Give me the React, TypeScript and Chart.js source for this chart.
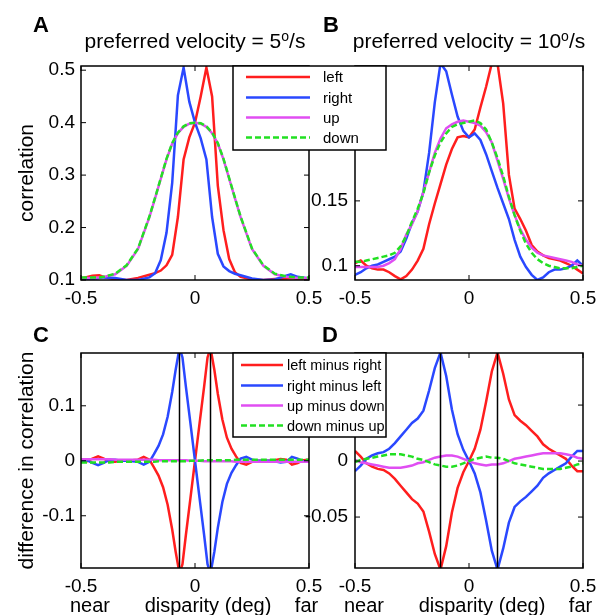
import React, { useEffect, useRef } from "react";
import { Chart, registerables } from "chart.js";

Chart.register(...registerables);

// ---------------- DATA ----------------
const X_TICKS = [-0.5, 0, 0.5];
const X_TICK_LABELS = ["-0.5", "0", "0.5"];

// Panel A (preferred velocity 5 deg/s)
const X_A = [-0.5, -0.45, -0.42, -0.4, -0.35, -0.3, -0.25, -0.2, -0.175, -0.15, -0.125, -0.1, -0.075, -0.05, -0.025, 0, 0.025, 0.05, 0.075, 0.1, 0.125, 0.15, 0.175, 0.2, 0.25, 0.3, 0.35, 0.4, 0.42, 0.45, 0.5];
const A_LEFT = [0.103, 0.108, 0.109, 0.106, 0.101, 0.1, 0.104, 0.11, 0.113, 0.118, 0.128, 0.148, 0.22, 0.33, 0.372, 0.4, 0.45, 0.505, 0.45, 0.28, 0.195, 0.14, 0.115, 0.106, 0.101, 0.1, 0.102, 0.103, 0.104, 0.102, 0.1];
const A_RIGHT = [0.1, 0.102, 0.104, 0.105, 0.104, 0.1, 0.1, 0.105, 0.113, 0.138, 0.19, 0.285, 0.452, 0.505, 0.44, 0.4, 0.37, 0.33, 0.22, 0.15, 0.126, 0.117, 0.112, 0.109, 0.103, 0.1, 0.101, 0.108, 0.111, 0.106, 0.103];
const A_UP = [0.104, 0.104, 0.105, 0.106, 0.111, 0.127, 0.159, 0.22, 0.256, 0.293, 0.33, 0.36, 0.38, 0.392, 0.398, 0.4, 0.398, 0.392, 0.38, 0.36, 0.33, 0.293, 0.256, 0.22, 0.159, 0.127, 0.111, 0.106, 0.105, 0.104, 0.104];
const A_DOWN = [0.105, 0.105, 0.105, 0.106, 0.112, 0.128, 0.16, 0.221, 0.257, 0.294, 0.331, 0.361, 0.381, 0.393, 0.399, 0.4, 0.399, 0.393, 0.381, 0.361, 0.331, 0.294, 0.257, 0.221, 0.16, 0.128, 0.112, 0.107, 0.106, 0.105, 0.105];
const A_Y_TICKS = [0.1, 0.2, 0.3, 0.4, 0.5];
const A_Y_TICK_LABELS = ["0.1", "0.2", "0.3", "0.4", "0.5"];

// Panel B (preferred velocity 10 deg/s)
const X_B = [-0.5, -0.475, -0.45, -0.425, -0.4, -0.375, -0.35, -0.325, -0.3, -0.275, -0.25, -0.225, -0.2, -0.175, -0.15, -0.125, -0.1, -0.075, -0.05, -0.025, 0, 0.025, 0.05, 0.075, 0.1, 0.125, 0.15, 0.175, 0.2, 0.225, 0.25, 0.275, 0.3, 0.325, 0.35, 0.375, 0.4, 0.425, 0.45, 0.475, 0.5];
const B_LEFT = [0.102, 0.104, 0.1, 0.098, 0.097, 0.097, 0.095, 0.092, 0.0895, 0.092, 0.097, 0.104, 0.113, 0.132, 0.148, 0.163, 0.178, 0.19, 0.199, 0.2, 0.199, 0.205, 0.222, 0.238, 0.256, 0.256, 0.225, 0.17, 0.144, 0.136, 0.127, 0.116, 0.111, 0.108, 0.106, 0.105, 0.104, 0.102, 0.1, 0.097, 0.094];
const B_RIGHT = [0.093, 0.095, 0.098, 0.1, 0.101, 0.103, 0.105, 0.107, 0.111, 0.121, 0.133, 0.142, 0.157, 0.187, 0.226, 0.256, 0.25, 0.232, 0.215, 0.204, 0.199, 0.202, 0.197, 0.186, 0.173, 0.16, 0.148, 0.136, 0.12, 0.107, 0.099, 0.093, 0.089, 0.091, 0.095, 0.097, 0.097, 0.098, 0.1, 0.104, 0.1];
const B_UP = [0.099, 0.099, 0.099, 0.099, 0.099, 0.1, 0.102, 0.105, 0.113, 0.124, 0.132, 0.142, 0.157, 0.172, 0.187, 0.198, 0.206, 0.209, 0.211, 0.212, 0.211, 0.21, 0.208, 0.203, 0.195, 0.181, 0.167, 0.152, 0.139, 0.128, 0.12, 0.114, 0.11, 0.108, 0.107, 0.106, 0.105, 0.104, 0.103, 0.101, 0.1];
const B_DOWN = [0.103, 0.103, 0.104, 0.105, 0.106, 0.107, 0.108, 0.11, 0.115, 0.123, 0.134, 0.144, 0.156, 0.172, 0.185, 0.195, 0.202, 0.207, 0.209, 0.21, 0.211, 0.212, 0.21, 0.205, 0.195, 0.183, 0.169, 0.153, 0.139, 0.127, 0.117, 0.11, 0.105, 0.102, 0.1, 0.099, 0.098, 0.098, 0.098, 0.099, 0.1];
const B_Y_TICKS = [0.1, 0.15];
const B_Y_TICK_LABELS = ["0.1", "0.15"];

// Panel C (differences, 5 deg/s)
const X_C = [-0.5, -0.475, -0.45, -0.425, -0.4, -0.375, -0.35, -0.325, -0.3, -0.275, -0.25, -0.225, -0.2, -0.18, -0.16, -0.14, -0.12, -0.1, -0.085, -0.068, -0.055, -0.04, -0.02, 0, 0.02, 0.04, 0.055, 0.068, 0.085, 0.1, 0.12, 0.14, 0.16, 0.18, 0.2, 0.225, 0.25, 0.275, 0.3, 0.325, 0.35, 0.375, 0.4, 0.425, 0.45, 0.475, 0.5];
const C_LEFT_MINUS_RIGHT = [0.002, -0.001, 0.004, 0.008, 0.004, -0.002, -0.002, 0, 0, 0.001, 0.002, 0.007, 0.002, -0.012, -0.027, -0.048, -0.08, -0.125, -0.165, -0.205, -0.188, -0.135, -0.068, 0, 0.068, 0.135, 0.188, 0.205, 0.165, 0.122, 0.075, 0.042, 0.022, 0.008, -0.004, -0.007, -0.002, 0, 0, 0, 0.001, 0.003, 0.002, -0.007, -0.004, 0.001, 0.002];
const C_RIGHT_MINUS_LEFT = [-0.002, 0.001, -0.004, -0.008, -0.004, 0.002, 0.002, 0, 0, -0.001, -0.002, -0.007, -0.002, 0.012, 0.027, 0.048, 0.08, 0.125, 0.165, 0.205, 0.188, 0.135, 0.068, 0, -0.068, -0.135, -0.188, -0.205, -0.165, -0.122, -0.075, -0.042, -0.022, -0.008, 0.004, 0.007, 0.002, 0, 0, 0, -0.001, -0.003, -0.002, 0.007, 0.004, -0.001, -0.002];
const C_UP_MINUS_DOWN = [0.003, 0.003, 0.003, 0.003, 0.003, 0.003, 0.002, 0.002, 0.002, 0.002, 0.002, 0.002, 0.002, 0.002, 0.001, 0.001, 0.001, 0.001, 0.001, 0.001, 0.001, 0.001, 0, 0, 0, -0.001, -0.001, -0.001, -0.001, -0.001, -0.001, -0.001, -0.001, -0.002, -0.002, -0.002, -0.002, -0.002, -0.002, -0.002, -0.002, -0.002, -0.002, -0.002, -0.002, -0.002, -0.002];
const C_DOWN_MINUS_UP = [-0.003, -0.003, -0.003, -0.003, -0.003, -0.003, -0.002, -0.002, -0.002, -0.002, -0.002, -0.002, -0.002, -0.002, -0.001, -0.001, -0.001, -0.001, -0.001, -0.001, -0.001, -0.001, 0, 0, 0, 0.001, 0.001, 0.001, 0.001, 0.001, 0.001, 0.001, 0.001, 0.002, 0.002, 0.002, 0.002, 0.002, 0.002, 0.002, 0.002, 0.002, 0.002, 0.002, 0.002, 0.002, 0.002];
const C_Y_TICKS = [-0.1, 0, 0.1];
const C_Y_TICK_LABELS = ["-0.1", "0", "0.1"];
const C_MARKERS = [-0.068, 0.068];

// Panel D (differences, 10 deg/s)
const X_D = [-0.5, -0.475, -0.45, -0.425, -0.4, -0.375, -0.35, -0.325, -0.3, -0.275, -0.25, -0.225, -0.2, -0.175, -0.15, -0.125, -0.1, -0.075, -0.05, -0.025, 0, 0.025, 0.05, 0.075, 0.1, 0.125, 0.15, 0.175, 0.2, 0.225, 0.25, 0.275, 0.3, 0.325, 0.35, 0.375, 0.4, 0.425, 0.45, 0.475, 0.5];
const D_LEFT_MINUS_RIGHT = [0.009, 0.004, -0.002, -0.005, -0.007, -0.008, -0.011, -0.016, -0.022, -0.028, -0.034, -0.038, -0.045, -0.063, -0.083, -0.097, -0.076, -0.046, -0.024, -0.01, 0, 0.011, 0.028, 0.053, 0.08, 0.097, 0.078, 0.055, 0.041, 0.036, 0.032, 0.027, 0.022, 0.015, 0.011, 0.008, 0.005, 0.002, -0.004, -0.009, -0.009];
const D_RIGHT_MINUS_LEFT = [-0.009, -0.004, 0.002, 0.005, 0.007, 0.008, 0.011, 0.016, 0.022, 0.028, 0.034, 0.038, 0.045, 0.063, 0.083, 0.097, 0.076, 0.046, 0.024, 0.01, 0, -0.011, -0.028, -0.053, -0.08, -0.097, -0.078, -0.055, -0.041, -0.036, -0.032, -0.027, -0.022, -0.015, -0.011, -0.008, -0.005, -0.002, 0.004, 0.009, 0.009];
const D_UP_MINUS_DOWN = [0.001, -0.001, -0.002, -0.003, -0.004, -0.005, -0.006, -0.006, -0.006, -0.005, -0.004, -0.002, -0.001, 0.001, 0.003, 0.004, 0.005, 0.005, 0.004, 0.002, 0, -0.002, -0.003, -0.004, -0.003, -0.003, -0.002, 0, 0.002, 0.003, 0.004, 0.005, 0.006, 0.007, 0.007, 0.007, 0.007, 0.006, 0.005, 0.003, 0.002];
const D_DOWN_MINUS_UP = [-0.001, 0.001, 0.002, 0.003, 0.004, 0.005, 0.006, 0.006, 0.006, 0.005, 0.004, 0.002, 0.001, -0.001, -0.003, -0.004, -0.005, -0.005, -0.004, -0.002, 0, 0.002, 0.003, 0.004, 0.003, 0.003, 0.002, 0, -0.002, -0.003, -0.004, -0.005, -0.006, -0.007, -0.007, -0.007, -0.007, -0.006, -0.005, -0.003, -0.002];
const D_Y_TICKS = [-0.05, 0, 0.05];
const D_Y_TICK_LABELS = ["-0.05", "0", "0.05"];
const D_MARKERS = [-0.125, 0.125];

const LEGEND_TOP = ["left", "right", "up", "down"];
const LEGEND_BOTTOM = ["left minus right", "right minus left", "up minus down", "down minus up"];
const X_TITLE_PARTS = ["near", "disparity (deg)", "far"];

// ---------------- STYLE ----------------
const FONT = "'Liberation Sans', Arial, Helvetica, sans-serif";
const STYLES = [
  { color: "#ff1e1e", dash: [] as number[] },
  { color: "#2a48ff", dash: [] as number[] },
  { color: "#e04ef2", dash: [] as number[] },
  { color: "#22e022", dash: [6, 3] },
];
const W = 605;
const H = 615;

interface PanelSpec {
  area: { l: number; t: number; r: number; b: number };
  x: number[];
  series: number[][];
  yMin: number;
  yMax: number;
  yTicks: number[];
  yTickLabels: string[];
  yPad: number;
  markers: number[];
  letter: string;
  letterPos: [number, number];
  title?: [string, string, string];
  yTitle?: string;
  xTitle?: boolean;
  legend?: {
    labels: string[];
    box: [number, number, number, number];
    lineX: [number, number];
    textX: number;
    rowY: number[];
    fontSize: number;
  };
}

const PANEL_B: PanelSpec = {
  area: { l: 355, t: 66, r: 583, b: 280 },
  x: X_B,
  series: [B_LEFT, B_RIGHT, B_UP, B_DOWN],
  yMin: 0.089,
  yMax: 0.254,
  yTicks: B_Y_TICKS,
  yTickLabels: B_Y_TICK_LABELS,
  yPad: 7,
  markers: [],
  letter: "B",
  letterPos: [323, 32],
  title: ["preferred velocity = 10", "o", "/s"],
};

const PANEL_A: PanelSpec = {
  area: { l: 81, t: 66, r: 309, b: 280 },
  x: X_A,
  series: [A_LEFT, A_RIGHT, A_UP, A_DOWN],
  yMin: 0.1,
  yMax: 0.508,
  yTicks: A_Y_TICKS,
  yTickLabels: A_Y_TICK_LABELS,
  yPad: 6,
  markers: [],
  letter: "A",
  letterPos: [33, 32],
  title: ["preferred velocity = 5", "o", "/s"],
  yTitle: "correlation",
  legend: {
    labels: LEGEND_TOP,
    box: [233, 66, 153, 84],
    lineX: [246, 310],
    textX: 323,
    rowY: [77, 97.5, 117.5, 137.5],
    fontSize: 15,
  },
};

const PANEL_D: PanelSpec = {
  area: { l: 355, t: 353, r: 583, b: 568 },
  x: X_D,
  series: [D_LEFT_MINUS_RIGHT, D_RIGHT_MINUS_LEFT, D_UP_MINUS_DOWN, D_DOWN_MINUS_UP],
  yMin: -0.0955,
  yMax: 0.0965,
  yTicks: D_Y_TICKS,
  yTickLabels: D_Y_TICK_LABELS,
  yPad: 7,
  markers: D_MARKERS,
  letter: "D",
  letterPos: [322, 342],
  xTitle: true,
};

const PANEL_C: PanelSpec = {
  area: { l: 81, t: 353, r: 309, b: 568 },
  x: X_C,
  series: [C_LEFT_MINUS_RIGHT, C_RIGHT_MINUS_LEFT, C_UP_MINUS_DOWN, C_DOWN_MINUS_UP],
  yMin: -0.195,
  yMax: 0.196,
  yTicks: C_Y_TICKS,
  yTickLabels: C_Y_TICK_LABELS,
  yPad: 6,
  markers: C_MARKERS,
  letter: "C",
  letterPos: [33, 342],
  yTitle: "difference in correlation",
  xTitle: true,
  legend: {
    labels: LEGEND_BOTTOM,
    box: [233, 353, 153, 84],
    lineX: [241, 283],
    textX: 287,
    rowY: [365, 385.5, 405.5, 425.5],
    fontSize: 14.5,
  },
};

// Drawing order: B under A (A's legend covers B's corner), D under C.
const PANELS = [PANEL_B, PANEL_A, PANEL_D, PANEL_C];

function makeDecoration(p: PanelSpec) {
  return {
    id: "deco" + p.letter,
    afterDraw(chart: any) {
      const ctx: CanvasRenderingContext2D = chart.ctx;
      const { left, right, top, bottom } = chart.chartArea;
      const xs = chart.scales.x;
      const ys = chart.scales.y;
      ctx.save();
      // frame
      ctx.strokeStyle = "#000";
      ctx.lineWidth = 1.5;
      ctx.setLineDash([]);
      ctx.strokeRect(left, top, right - left, bottom - top);
      // inner ticks on all four sides
      ctx.lineWidth = 1;
      ctx.beginPath();
      for (const v of X_TICKS) {
        const px = xs.getPixelForValue(v);
        ctx.moveTo(px, bottom);
        ctx.lineTo(px, bottom - 5);
        ctx.moveTo(px, top);
        ctx.lineTo(px, top + 5);
      }
      for (const v of p.yTicks) {
        const py = ys.getPixelForValue(v);
        ctx.moveTo(left, py);
        ctx.lineTo(left + 5, py);
        ctx.moveTo(right, py);
        ctx.lineTo(right - 5, py);
      }
      ctx.stroke();

      ctx.fillStyle = "#000";
      ctx.textBaseline = "alphabetic";
      // panel letter
      ctx.font = `bold 22px ${FONT}`;
      ctx.textAlign = "left";
      ctx.fillText(p.letter, p.letterPos[0], p.letterPos[1]);

      // title with superscript
      if (p.title) {
        const [main, sup, tail] = p.title;
        ctx.font = `21px ${FONT}`;
        const w1 = ctx.measureText(main).width;
        const w3 = ctx.measureText(tail).width;
        ctx.font = `14px ${FONT}`;
        const w2 = ctx.measureText(sup).width;
        let x = (left + right) / 2 - (w1 + w2 + w3) / 2;
        ctx.font = `21px ${FONT}`;
        ctx.fillText(main, x, 47.5);
        x += w1;
        ctx.font = `14px ${FONT}`;
        ctx.fillText(sup, x, 40.5);
        x += w2;
        ctx.font = `21px ${FONT}`;
        ctx.fillText(tail, x, 47.5);
      }

      // y title
      if (p.yTitle) {
        ctx.save();
        ctx.font = `21px ${FONT}`;
        ctx.textAlign = "center";
        ctx.translate(33, (top + bottom) / 2);
        ctx.rotate(-Math.PI / 2);
        ctx.fillText(p.yTitle, 0, 0);
        ctx.restore();
      }

      // x title pieces
      if (p.xTitle) {
        ctx.font = `20px ${FONT}`;
        ctx.textAlign = "center";
        const offs = [9, 127, 225.5];
        X_TITLE_PARTS.forEach((s, i) => ctx.fillText(s, left + offs[i], 612));
      }

      // legend
      if (p.legend) {
        const lg = p.legend;
        const [bx, by, bw, bh] = lg.box;
        ctx.fillStyle = "#fff";
        ctx.fillRect(bx, by, bw, bh);
        ctx.strokeStyle = "#000";
        ctx.lineWidth = 1.5;
        ctx.strokeRect(bx, by, bw, bh);
        ctx.font = `${lg.fontSize}px ${FONT}`;
        ctx.textAlign = "left";
        ctx.textBaseline = "middle";
        lg.labels.forEach((lab, i) => {
          const y = lg.rowY[i];
          ctx.strokeStyle = STYLES[i].color;
          ctx.lineWidth = 2.5;
          ctx.setLineDash(STYLES[i].dash);
          ctx.beginPath();
          ctx.moveTo(lg.lineX[0], y);
          ctx.lineTo(lg.lineX[1], y);
          ctx.stroke();
          ctx.setLineDash([]);
          ctx.fillStyle = "#000";
          ctx.fillText(lab, lg.textX, y + 1);
        });
      }
      ctx.restore();
    },
  };
}

function buildConfig(p: PanelSpec): any {
  const datasets: any[] = [];
  for (const m of p.markers) {
    datasets.push({
      data: [
        { x: m, y: p.yMin },
        { x: m, y: p.yMax },
      ],
      borderColor: "#000",
      borderWidth: 1.5,
      pointRadius: 0,
    });
  }
  for (let i = 3; i >= 0; i--) {
    datasets.push({
      data: p.x.map((x, j) => ({ x, y: p.series[i][j] })),
      borderColor: STYLES[i].color,
      borderDash: STYLES[i].dash,
      borderWidth: 2.5,
      pointRadius: 0,
      tension: 0,
      fill: false,
    });
  }
  const Y_AXIS_W = 60;
  const X_AXIS_H = 30;
  return {
    type: "line",
    data: { datasets },
    options: {
      responsive: false,
      animation: false,
      devicePixelRatio: 1,
      events: [],
      layout: {
        padding: {
          left: p.area.l - Y_AXIS_W,
          right: W - p.area.r,
          top: p.area.t,
          bottom: H - p.area.b - X_AXIS_H,
        },
      },
      plugins: {
        legend: { display: false },
        tooltip: { enabled: false },
        title: { display: false },
      },
      scales: {
        x: {
          type: "linear",
          min: -0.5,
          max: 0.5,
          grid: { display: false, drawTicks: false },
          border: { display: false },
          ticks: {
            color: "#000",
            font: { family: FONT, size: 19 },
            padding: 7,
            maxRotation: 0,
            autoSkip: false,
            callback: (_v: any, i: number) => X_TICK_LABELS[i],
          },
          afterBuildTicks: (s: any) => {
            s.ticks = X_TICKS.map((v) => ({ value: v }));
          },
          afterFit: (s: any) => {
            s.height = X_AXIS_H;
          },
        },
        y: {
          type: "linear",
          min: p.yMin,
          max: p.yMax,
          grid: { display: false, drawTicks: false },
          border: { display: false },
          ticks: {
            color: "#000",
            font: { family: FONT, size: 19 },
            padding: p.yPad,
            autoSkip: false,
            callback: (_v: any, i: number) => p.yTickLabels[i],
          },
          afterBuildTicks: (s: any) => {
            s.ticks = p.yTicks.map((v) => ({ value: v }));
          },
          afterFit: (s: any) => {
            s.width = Y_AXIS_W;
          },
        },
      },
    },
    plugins: [makeDecoration(p)],
  };
}

export default function App() {
  const r0 = useRef<HTMLCanvasElement>(null);
  const r1 = useRef<HTMLCanvasElement>(null);
  const r2 = useRef<HTMLCanvasElement>(null);
  const r3 = useRef<HTMLCanvasElement>(null);
  const refs = [r0, r1, r2, r3];

  useEffect(() => {
    const charts = PANELS.map((p, i) => new Chart(refs[i].current as HTMLCanvasElement, buildConfig(p)));
    return () => charts.forEach((c) => c.destroy());
  }, []);

  return (
    <div
      style={{
        position: "fixed",
        left: 0,
        top: 0,
        width: W,
        height: H,
        background: "#fff",
        overflow: "hidden",
      }}
    >
      {refs.map((r, i) => (
        <canvas
          key={i}
          ref={r}
          width={W}
          height={H}
          style={{ position: "absolute", left: 0, top: 0, width: W, height: H }}
        />
      ))}
    </div>
  );
}
